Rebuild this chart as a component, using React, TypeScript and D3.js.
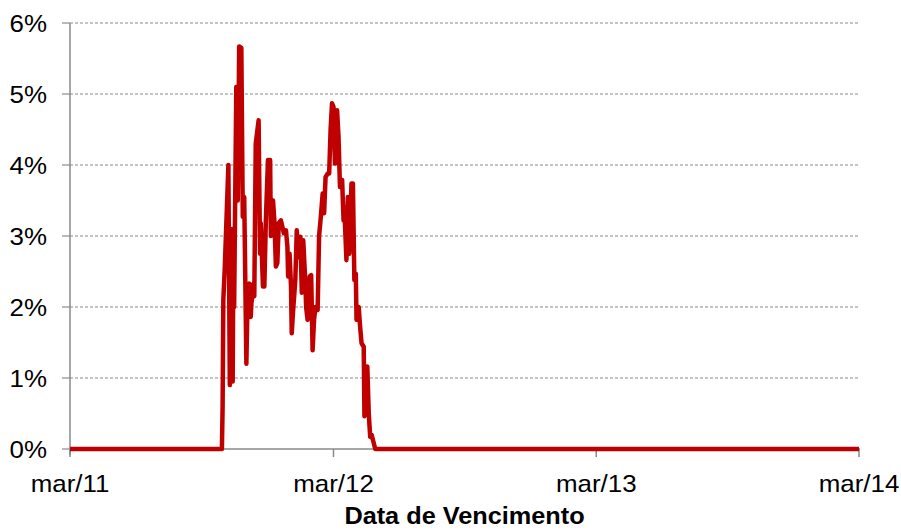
import React from "react";
import * as d3 from "d3";

const dates: string[] = [
  "2011-03-01", "2011-09-28", "2011-09-29", "2011-09-30", "2011-10-02", "2011-10-07",
  "2011-10-09", "2011-10-12", "2011-10-13", "2011-10-14", "2011-10-15", "2011-10-18",
  "2011-10-20", "2011-10-22", "2011-10-25", "2011-10-27", "2011-10-29", "2011-11-01",
  "2011-11-03", "2011-11-05", "2011-11-07", "2011-11-08", "2011-11-11", "2011-11-12",
  "2011-11-14", "2011-11-18", "2011-11-20", "2011-11-21", "2011-11-24", "2011-11-26",
  "2011-11-28", "2011-12-01", "2011-12-04", "2011-12-05", "2011-12-08", "2011-12-10",
  "2011-12-12", "2011-12-14", "2011-12-16", "2011-12-19", "2011-12-21", "2011-12-23",
  "2011-12-26", "2011-12-28", "2011-12-29", "2011-12-31", "2012-01-02", "2012-01-03",
  "2012-01-05", "2012-01-08", "2012-01-10", "2012-01-12", "2012-01-15", "2012-01-17",
  "2012-01-19", "2012-01-22", "2012-01-23", "2012-01-25", "2012-01-28", "2012-01-30",
  "2012-02-01", "2012-02-03", "2012-02-05", "2012-02-08", "2012-02-10", "2012-02-12",
  "2012-02-15", "2012-02-17", "2012-02-19", "2012-02-22", "2012-02-24", "2012-02-26",
  "2012-02-28", "2012-03-01", "2012-03-03", "2012-03-06", "2012-03-08", "2012-03-10",
  "2012-03-13", "2012-03-15", "2012-03-16", "2012-03-19", "2012-03-21", "2012-03-23",
  "2012-03-26", "2012-03-28", "2012-03-30", "2012-04-01", "2012-04-02", "2012-04-05",
  "2012-04-07", "2012-04-09", "2012-04-12", "2012-04-13", "2012-04-15", "2012-04-17",
  "2012-04-19", "2012-04-21", "2012-04-23", "2012-04-26", "2012-04-28", "2014-03-01",
];

const values: number[] = [
  0, 0, 0.6, 2.1, 2.55, 4.0,
  0.9, 3.1, 0.95, 3.0, 2.0, 5.1,
  3.5, 5.67, 5.65, 3.27, 3.55, 1.2,
  2.3, 2.33, 1.86, 2.05, 2.33, 2.15,
  4.3, 4.63, 2.75, 3.18, 2.29, 2.29,
  3.2, 4.07, 4.07, 3.0, 3.5, 3.2,
  2.57, 2.62, 3.18, 3.22, 3.13, 3.04,
  3.08, 2.85, 2.43, 2.75, 2.29, 1.63,
  1.96, 2.38, 3.08, 2.7, 2.99, 2.2,
  2.94, 2.33, 2.0, 1.82, 2.43, 2.45,
  1.39, 1.82, 2.0, 1.96, 3.0, 3.22,
  3.6, 3.32, 3.83, 3.88, 3.88, 4.5,
  4.87, 4.82, 4.02, 4.77, 4.4, 3.69,
  3.79, 3.22, 3.41, 2.66, 3.55, 2.75,
  3.74, 3.74, 2.38, 2.47, 1.82, 2.0,
  1.72, 1.49, 1.44, 0.46, 1.11, 1.16,
  0.5, 0.17, 0.2, 0.08, 0, 0,
];

const xTickDates: string[] = ["2011-03-01", "2012-03-01", "2013-03-01", "2014-03-01"];
const xTickLabels: string[] = ["mar/11", "mar/12", "mar/13", "mar/14"];
const yTicks: number[] = [0, 1, 2, 3, 4, 5, 6];
const xTitle = "Data de Vencimento";

const W = 901;
const H = 530;
const left = 70;
const right = 859;
const top = 23;
const bottom = 449;

export default function App() {
  const parse = d3.timeParse("%Y-%m-%d");
  const x = d3
    .scaleTime()
    .domain([parse("2011-03-01")!, parse("2014-03-01")!])
    .range([left, right]);
  const y = d3.scaleLinear().domain([0, 6]).range([bottom, top]);
  const data = dates.map((d, i) => ({ d: parse(d)!, v: values[i] }));
  const line = d3
    .line<{ d: Date; v: number }>()
    .x((p) => x(p.d))
    .y((p) => y(p.v));
  const axisColor = "#8a8a8a";
  const font = "'Liberation Sans', Arial, sans-serif";

  return (
    <svg
      width={W}
      height={H}
      style={{ position: "absolute", left: 0, top: 0, background: "#fff" }}
    >
      {yTicks.map((t) => (
        <g key={t}>
          {t > 0 && (
            <line
              x1={left}
              x2={right + 1}
              y1={y(t)}
              y2={y(t)}
              stroke={axisColor}
              strokeWidth={1.2}
              strokeDasharray="3,2"
            />
          )}
          <line x1={left - 8} x2={left} y1={y(t)} y2={y(t)} stroke={axisColor} strokeWidth={1.2} />
          <text
            transform={`translate(47,${y(t) + 8.5}) scale(1.08,1)`}
            textAnchor="end"
            fontFamily={font}
            fontSize={24}
            fill="#000"
          >
            {`${t}%`}
          </text>
        </g>
      ))}
      <line x1={left} x2={left} y1={top} y2={bottom + 6} stroke={axisColor} strokeWidth={1.5} />
      <line x1={left} x2={right + 1} y1={bottom} y2={bottom} stroke={axisColor} strokeWidth={1.5} />
      {xTickDates.map((d, i) => {
        const px = x(parse(d)!);
        return (
          <g key={d}>
            <line x1={px} x2={px} y1={bottom} y2={bottom + 8} stroke={axisColor} strokeWidth={1.5} />
            <text
              transform={`translate(${px},492) scale(1.08,1)`}
              textAnchor="middle"
              fontFamily={font}
              fontSize={24}
              fill="#000"
            >
              {xTickLabels[i]}
            </text>
          </g>
        );
      })}
      <path
        d={line(data) || ""}
        fill="none"
        stroke="#C00000"
        strokeWidth={4.5}
        strokeLinejoin="round"
      />
      <text
        transform={`translate(464.5,524) scale(1.1,1)`}
        textAnchor="middle"
        fontFamily={font}
        fontSize={23}
        fontWeight="bold"
        fill="#000"
      >
        {xTitle}
      </text>
    </svg>
  );
}
